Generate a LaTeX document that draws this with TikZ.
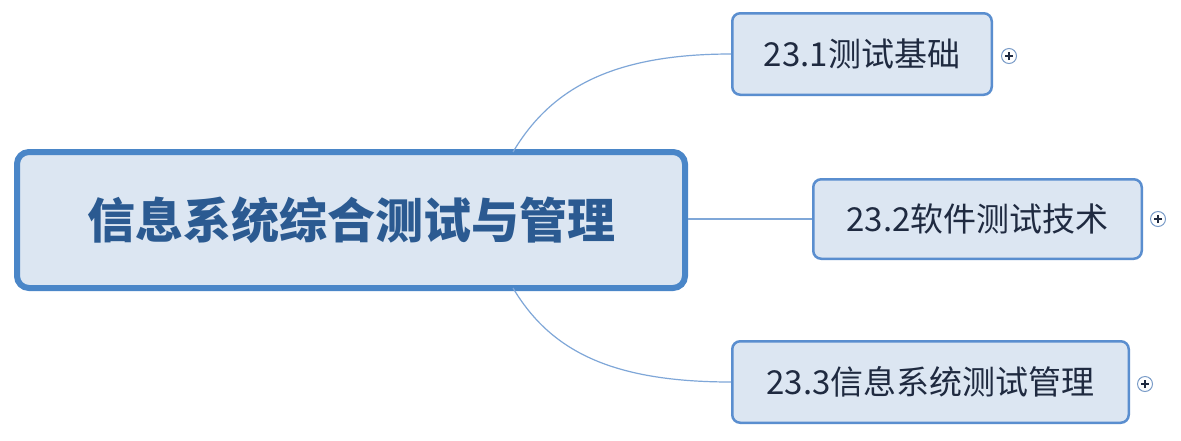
\documentclass[tikz,border=0pt]{standalone}
\usepackage{fontspec}
\setmainfont{Noto Sans CJK SC}
\usetikzlibrary{calc}
\definecolor{mainborder}{HTML}{4A86C8}
\definecolor{subborder}{HTML}{5A8ECF}
\definecolor{boxfill}{HTML}{DCE6F2}
\definecolor{maintext}{HTML}{2B5A91}
\definecolor{subtext}{HTML}{1F2A40}
\definecolor{linkcol}{HTML}{7FA7D8}
\definecolor{plusborder}{HTML}{7A9CC8}
\tikzset{
  mainbox/.style={draw=mainborder, line width=6pt, fill=boxfill, rounded corners=12pt,
    inner sep=0pt, minimum width=668pt, minimum height=136pt,
    font=\fontsize{48}{52}\selectfont\bfseries, text=maintext},
  subbox/.style={draw=subborder, line width=2.5pt, fill=boxfill, rounded corners=8pt,
    inner sep=0pt, font=\fontsize{33}{38}\selectfont, text=subtext},
  link/.style={draw=linkcol, line width=1.2pt},
  plusbox/.style={circle, draw=plusborder, line width=1pt, fill=white, minimum size=15pt, inner sep=0pt,
    path picture={\draw[line width=1.4pt, subtext] ([xshift=-4pt]path picture bounding box.center) -- ([xshift=4pt]path picture bounding box.center)
      ([yshift=-4pt]path picture bounding box.center) -- ([yshift=4pt]path picture bounding box.center);}}
}
\begin{document}
\begin{tikzpicture}[x=1pt, y=-1pt]
\useasboundingbox (0,0) rectangle (1181,440);
\fill[white] (0,0) rectangle (1181,440);
\node[mainbox] (main) at (351,220) {信息系统综合测试与管理};
\node[subbox, minimum width=259.5pt, minimum height=81.5pt] (b1) at (862,54) {23.1测试基础};
\node[subbox, minimum width=328.5pt, minimum height=79.5pt] (b2) at (977.5,219) {23.2软件测试技术};
\node[subbox, minimum width=396.5pt, minimum height=81.5pt] (b3) at (930.5,382) {23.3信息系统测试管理};
\draw[link] ([xshift=162pt,yshift=-3pt]main.north) .. controls (550,90) and (610,54) .. (b1.west);
\draw[link] (main.east |- b2.west) -- (b2.west);
\draw[link] ([xshift=162pt,yshift=3pt]main.south) .. controls (550,350) and (610,382) .. (b3.west);
\node[plusbox] (p1) at (1009,56) {};
\node[plusbox] (p2) at (1158,219) {};
\node[plusbox] (p3) at (1145,384) {};
\end{tikzpicture}
\end{document}
